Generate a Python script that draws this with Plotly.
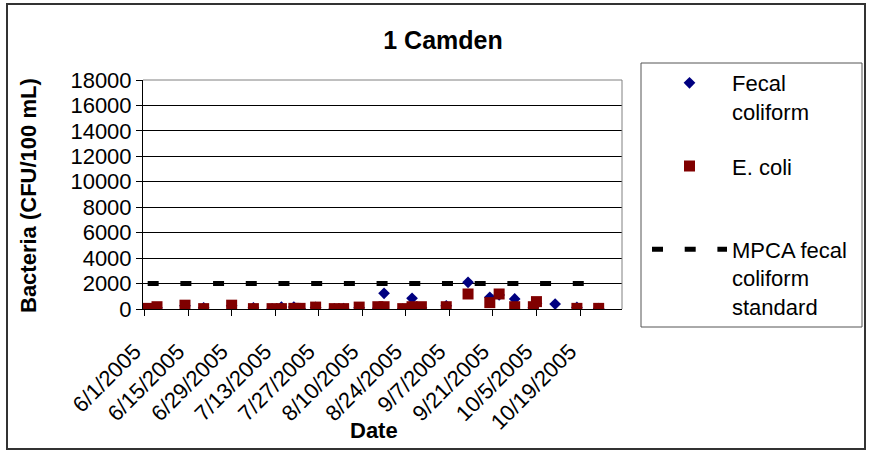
import plotly.graph_objects as go

# ---- data ----
ecoli_dates = ["2005-06-02", "2005-06-05", "2005-06-14", "2005-06-20", "2005-06-29",
               "2005-07-06", "2005-07-12", "2005-07-15", "2005-07-19", "2005-07-21",
               "2005-07-26", "2005-08-01", "2005-08-04", "2005-08-09", "2005-08-15",
               "2005-08-17", "2005-08-23", "2005-08-26", "2005-08-29", "2005-09-06",
               "2005-09-13", "2005-09-20", "2005-09-23", "2005-09-28", "2005-10-04",
               "2005-10-05", "2005-10-18", "2005-10-25"]
ecoli_values = [50, 180, 300, 30, 300,
                30, 30, 30, 50, 50,
                150, 30, 30, 150, 180,
                180, 30, 180, 180, 180,
                1180, 500, 1180, 180, 180,
                580, 50, 50]

fecal_dates = ["2005-06-02", "2005-06-05", "2005-06-14", "2005-06-20", "2005-06-29",
               "2005-07-06", "2005-07-12", "2005-07-15", "2005-07-19", "2005-07-21",
               "2005-07-26", "2005-08-01", "2005-08-04", "2005-08-09", "2005-08-15",
               "2005-08-17", "2005-08-23", "2005-08-26", "2005-08-29", "2005-09-06",
               "2005-09-13", "2005-09-20", "2005-09-23", "2005-09-28", "2005-10-04",
               "2005-10-05", "2005-10-11", "2005-10-18", "2005-10-25"]
fecal_values = [10, 100, 250, 100, 250,
                100, 20, 150, 150, 40,
                120, 20, 40, 100, 60,
                1230, 0, 840, 100, 250,
                2100, 920, 1100, 790, 100,
                450, 390, 120, 30]

standard_dates = ["2005-06-02", "2005-10-25"]
standard_values = [2000, 2000]

tick_dates = ["2005-06-01", "2005-06-15", "2005-06-29", "2005-07-13", "2005-07-27",
              "2005-08-10", "2005-08-24", "2005-09-07", "2005-09-21", "2005-10-05",
              "2005-10-19"]
tick_labels = ["6/1/2005", "6/15/2005", "6/29/2005", "7/13/2005", "7/27/2005",
               "8/10/2005", "8/24/2005", "9/7/2005", "9/21/2005", "10/5/2005",
               "10/19/2005"]

FONT = "Liberation Sans, Arial, sans-serif"

fig = go.Figure()
fig.add_trace(go.Scatter(
    x=fecal_dates, y=fecal_values, mode="markers", name="Fecal<br>coliform",
    legendgroup="a",
    marker=dict(symbol="diamond", size=9, color="#000080", line=dict(width=0))))
fig.add_trace(go.Scatter(
    x=ecoli_dates, y=ecoli_values, mode="markers", name="E. coli<br>\u00a0",
    legendgroup="b",
    marker=dict(symbol="square", size=11, color="#800000", line=dict(width=0))))
fig.add_trace(go.Scatter(
    x=standard_dates, y=standard_values, mode="lines",
    name="MPCA fecal<br>coliform<br>standard", legendgroup="c",
    line=dict(color="black", width=5, dash="11px,21.7px")))

# pixel -> paper helpers (plot area 143..622 x, 80..309 y)
L, R, T, B = 143, 622, 80, 309
def px(x):
    return (x - L) / (R - L)
def py(y):
    return (B - y) / (B - T)

fig.update_layout(
    width=869, height=453, autosize=False,
    margin=dict(l=L, r=869 - R, t=T, b=453 - B, pad=0, autoexpand=False),
    paper_bgcolor="white", plot_bgcolor="white",
    font=dict(family=FONT, color="black", size=22),
    title=dict(text="<b>1 Camden</b>", x=443 / 869, xanchor="center",
               y=1 - 40 / 453, yanchor="middle", yref="container", xref="container",
               font=dict(size=25, family=FONT, color="black")),
    xaxis=dict(type="date", range=["2005-05-31 12:00", "2005-11-01 12:00"],
               tickvals=tick_dates, ticktext=tick_labels, tickangle=-45,
               ticks="outside", ticklen=6, tickcolor="black", showline=True,
               linecolor="black", linewidth=1, showgrid=False, zeroline=False,
               ticklabelstandoff=14, ticklabelshift=-10, automargin=False,
               tickfont=dict(size=22, family=FONT, color="black")),
    yaxis=dict(range=[0, 18000], tick0=0, dtick=2000, tickformat="d",
               showgrid=True, gridcolor="black", gridwidth=1, showline=True,
               linecolor="black", linewidth=1, ticks="outside", ticklen=6,
               tickcolor="black", zeroline=False, automargin=False,
               tickfont=dict(size=22, family=FONT, color="black")),
    showlegend=True,
    legend=dict(x=px(647), y=py(62), xanchor="left", yanchor="top",
                xref="paper", yref="paper", bgcolor="rgba(0,0,0,0)",
                borderwidth=0, itemwidth=75, tracegroupgap=23, valign="top",
                maxheight=300,
                font=dict(size=22, family=FONT, color="black")),
    shapes=[
        dict(type="rect", xref="paper", yref="paper", x0=px(7), x1=px(865),
             y0=py(449), y1=py(4), line=dict(color="#333333", width=2), layer="below"),
        dict(type="rect", xref="paper", yref="paper", x0=px(641), x1=px(862),
             y0=py(327), y1=py(63), line=dict(color="#555555", width=1), layer="below"),
        dict(type="line", xref="paper", yref="paper", x0=0, x1=1, y0=1, y1=1,
             line=dict(color="#808080", width=1), layer="above"),
        dict(type="line", xref="paper", yref="paper", x0=1, x1=1, y0=0, y1=1,
             line=dict(color="#808080", width=1), layer="above"),
    ],
    annotations=[
        dict(text="<b>Bacteria (CFU/100 mL)</b>", xref="paper", yref="paper",
             x=px(28), y=py(196), textangle=-90, showarrow=False,
             xanchor="center", yanchor="middle",
             font=dict(size=22, family=FONT, color="black")),
        dict(text="<b>Date</b>", xref="paper", yref="paper",
             x=px(374), y=py(430), showarrow=False,
             xanchor="center", yanchor="middle",
             font=dict(size=22, family=FONT, color="black")),
    ],
)

fig.write_html("out.html")
